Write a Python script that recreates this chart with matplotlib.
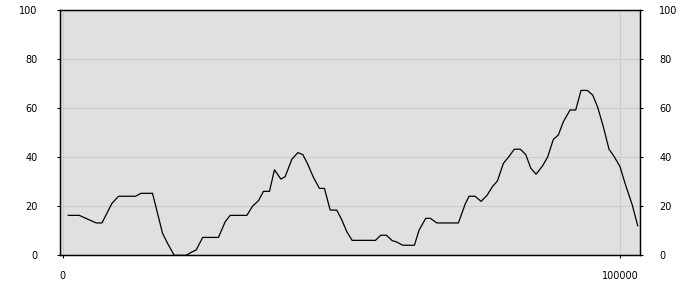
import matplotlib
matplotlib.use("Agg")
import matplotlib.pyplot as plt

# Data
x_vals = [1022, 2993, 4068, 6039, 7061, 8853, 10036, 13082, 14050, 16129,
          17921, 18817, 20018, 22168, 22885, 23961, 25125, 27957, 29158, 30054,
          33047, 34050, 35125, 36022, 37097, 37993, 39140, 39910, 41111, 42186,
          43082, 43978, 44982, 46057, 46953, 47975, 49175, 50071, 50968, 51918,
          56093, 57061, 58064, 59086, 59928, 61004, 63082, 63925, 65125, 65950,
          67097, 70968, 72168, 72885, 73961, 75036, 76111, 77061, 77957, 79032,
          79928, 81004, 82079, 83047, 83943, 84893, 86093, 86989, 87993, 88889,
          89785, 90986, 92007, 92957, 94086, 95054, 95950, 96953, 97975, 98925,
          99946, 100842, 102151, 103118]
y_vals = [16.3, 16.3, 15.2, 13.2, 13.2, 21.2, 24.1, 24.1, 25.3, 25.3,
          9.0, 4.9, 0.0, 0.0, 1.0, 2.2, 7.3, 7.3, 13.7, 16.3,
          16.3, 20.0, 22.3, 26.1, 26.1, 34.9, 31.1, 32.1, 39.2, 41.9,
          41.1, 37.1, 31.8, 27.3, 27.3, 18.5, 18.4, 14.4, 9.6, 6.1,
          6.1, 8.2, 8.2, 6.0, 5.4, 4.1, 4.1, 10.3, 15.1, 15.1,
          13.2, 13.2, 20.8, 24.1, 24.1, 22.0, 24.5, 28.0, 30.3, 37.5,
          40.0, 43.3, 43.3, 41.1, 35.6, 33.1, 36.6, 40.2, 47.3, 49.1,
          54.5, 59.3, 59.3, 67.3, 67.3, 65.4, 60.4, 52.5, 43.3, 40.2,
          36.2, 29.4, 20.5, 12.1]
y_ticks = [0, 20, 40, 60, 80, 100]
x_ticks = [0, 100000]
x_tick_labels = ["0", "100000"]

fig = plt.figure(figsize=(7, 3), dpi=100)
ax = fig.add_axes([0.0861, 0.149, 0.8286, 0.8167])
ax.set_facecolor("#e0e0e0")
ax.plot(x_vals, y_vals, color="black", lw=0.9)
ax.set_xlim(-412, 103584)
ax.set_ylim(0, 100)

ax.set_yticks(y_ticks)
ax.set_yticklabels([str(t) for t in y_ticks])
ax.set_xticks(x_ticks)
ax.set_xticklabels(x_tick_labels)

ax.grid(True, color="#cccccc", lw=0.8)
ax.set_axisbelow(True)

for s in ax.spines.values():
    s.set_linewidth(0.9)
    s.set_color("black")

ax.tick_params(axis="y", length=2.2, width=0.8, direction="out",
               labelsize=7, pad=14, colors="black")
ax.tick_params(axis="x", length=2.2, width=0.8, direction="out",
               labelsize=7, pad=9, colors="black")

ax2 = ax.twinx()
ax2.set_ylim(0, 100)
ax2.set_yticks(y_ticks)
ax2.set_yticklabels([str(t) for t in y_ticks])
ax2.tick_params(axis="y", length=2.2, width=0.8, direction="out",
                labelsize=7, pad=11.5, colors="black")
for s in ax2.spines.values():
    s.set_linewidth(0.9)

fig.savefig("out.png", dpi=100, facecolor="white")
